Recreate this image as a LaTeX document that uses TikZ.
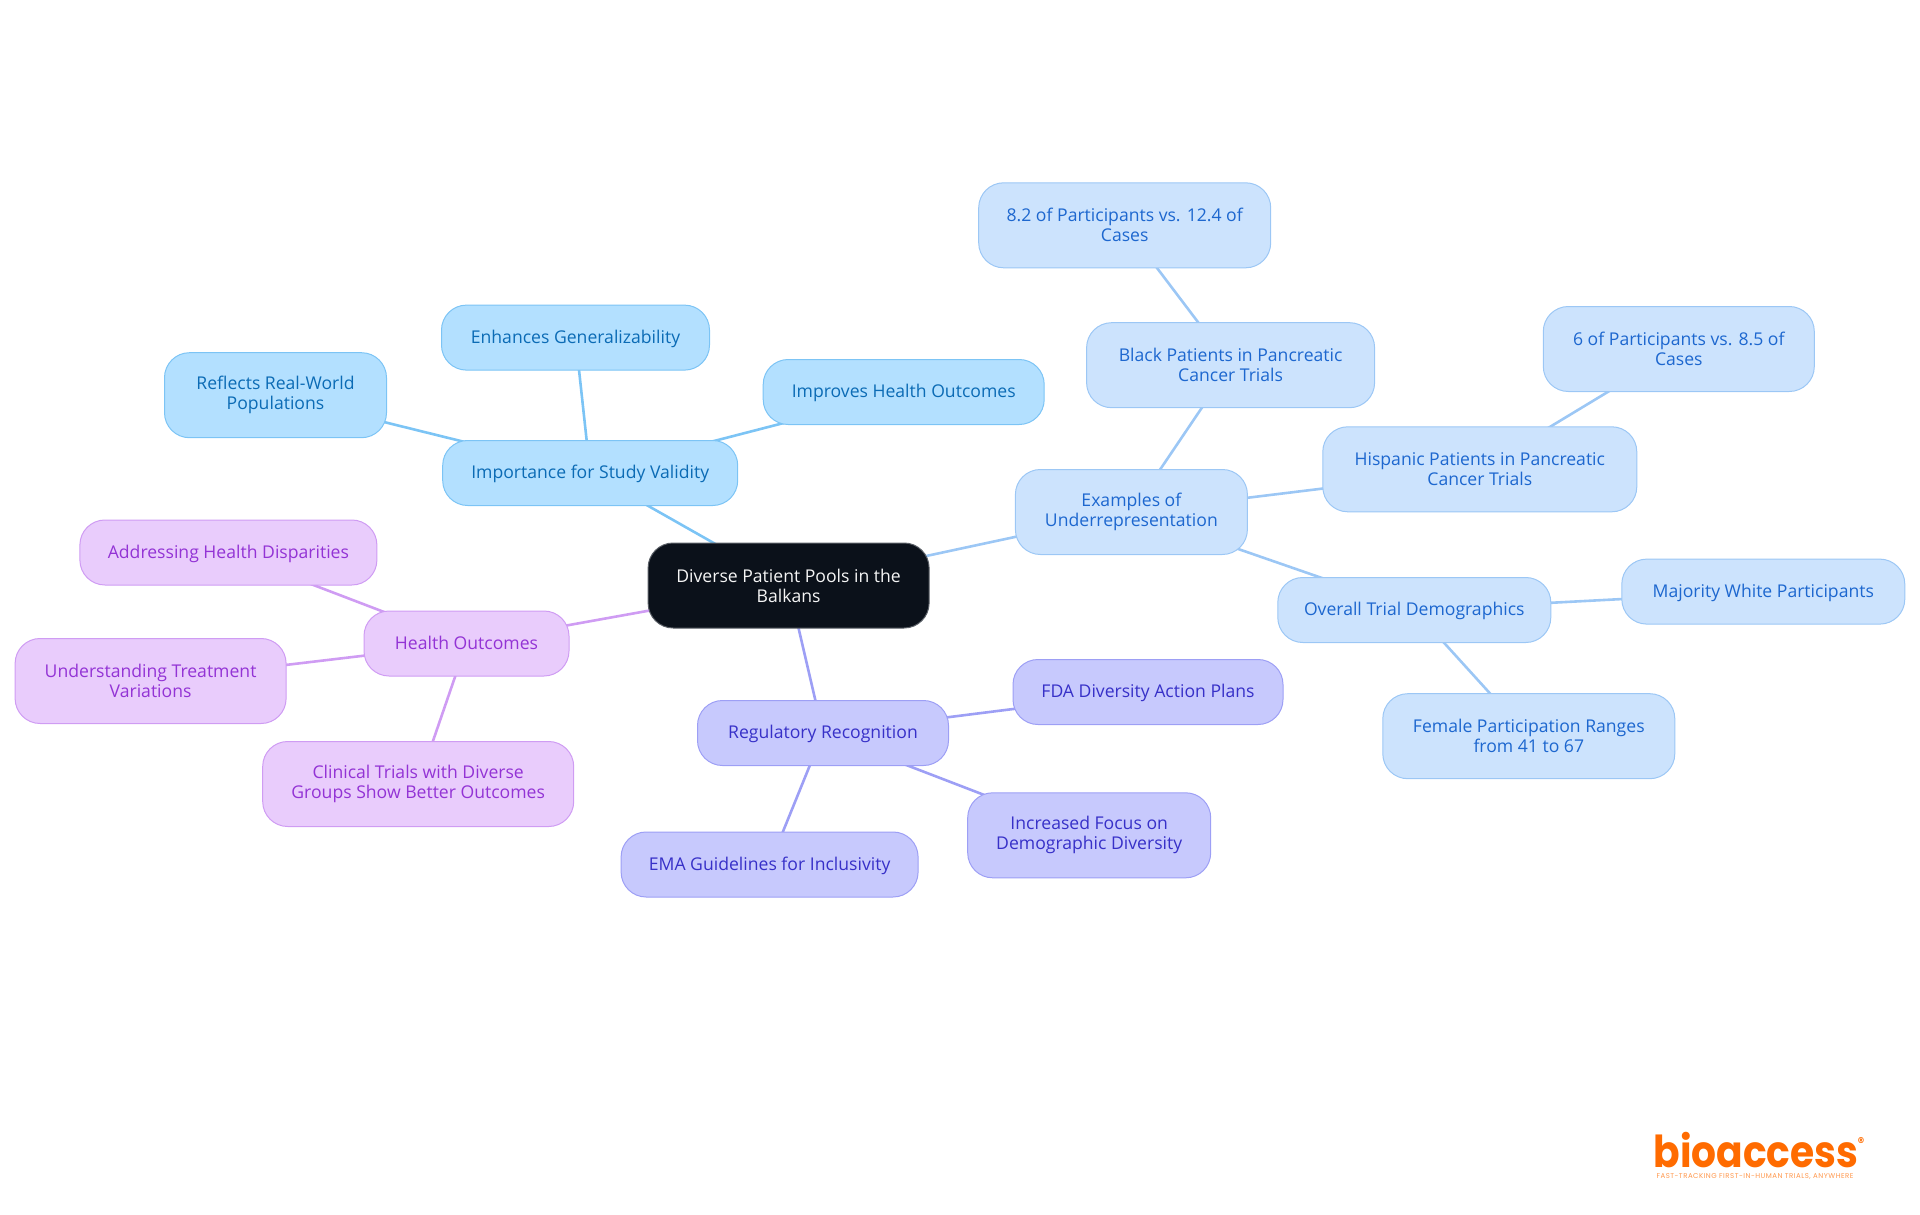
\documentclass[tikz,border=0pt]{standalone}
\usepackage{fontspec}
\setmainfont{Open Sans}
\newfontfamily\logofont[FakeStretch=0.89]{Poppins}
\newfontfamily\tagfont[LetterSpace=7]{Poppins}
\usetikzlibrary{backgrounds}
\definecolor{rootfill}{HTML}{0B111A}
\definecolor{rootline}{HTML}{5A5F66}
\definecolor{skyfill}{HTML}{B3E0FF}
\definecolor{skyline}{HTML}{7CC4F5}
\definecolor{skytext}{HTML}{0B6BB5}
\definecolor{bluefill}{HTML}{CCE3FD}
\definecolor{blueline}{HTML}{9CC7F5}
\definecolor{bluetext}{HTML}{1D67CF}
\definecolor{indigofill}{HTML}{C7C9FD}
\definecolor{indigoline}{HTML}{9D9FF5}
\definecolor{indigotext}{HTML}{3730C8}
\definecolor{purplefill}{HTML}{E9CCFC}
\definecolor{purpleline}{HTML}{CF9CF3}
\definecolor{purpletext}{HTML}{9333D5}
\definecolor{logoorange}{HTML}{FF6B00}
\begin{document}
\begin{tikzpicture}[x=1pt, y=-1pt,
    main/.style = {draw, rounded corners=25pt, line width=1pt, inner sep=0pt, align=center, font=\fontsize{17.6}{20}\selectfont},
    oneline/.style = {minimum height=65pt, text height=11.5pt, text depth=0pt},
    twoline/.style = {minimum height=85pt},
    rootbox/.style = {main, fill=rootfill, draw=rootline, text=white!96!black},
    skybox/.style = {main, fill=skyfill, draw=skyline, text=skytext},
    bluebox/.style = {main, fill=bluefill, draw=blueline, text=bluetext},
    indigobox/.style = {main, fill=indigofill, draw=indigoline, text=indigotext},
    purplebox/.style = {main, fill=purplefill, draw=purpleline, text=purpletext},
    link/.style = {line width=2.6pt}]
    \useasboundingbox (0,0) rectangle (1920,1215);

    \node[rootbox, twoline, minimum width=281pt] (root) at (788.6,585.5) {Diverse Patient Pools in the\\Balkans};

    \node[skybox, oneline, minimum width=295pt] (study) at (590.2,473) {Importance for Study Validity};
    \node[skybox, oneline, minimum width=268pt] (general) at (575.5,337.6) {Enhances Generalizability};
    \node[skybox, twoline, minimum width=222pt] (realworld) at (275.5,395.2) {Reflects Real-World\\Populations};
    \node[skybox, oneline, minimum width=281pt] (improves) at (903.7,392) {Improves Health Outcomes};

    \node[bluebox, twoline, minimum width=232pt] (under) at (1131.4,512) {Examples of\\Underrepresentation};
    \node[bluebox, twoline, minimum width=288pt] (black) at (1230.6,365.2) {Black Patients in Pancreatic\\Cancer Trials};
    \node[bluebox, twoline, minimum width=292pt] (blackpct) at (1124.7,225.3) {8.2 of Participants vs. 12.4 of\\Cases};
    \node[bluebox, twoline, minimum width=314pt] (hispanic) at (1479.8,469.3) {Hispanic Patients in Pancreatic\\Cancer Trials};
    \node[bluebox, twoline, minimum width=271pt] (hispanicpct) at (1678.8,349) {6 of Participants vs. 8.5 of\\Cases};
    \node[bluebox, oneline, minimum width=273pt] (overall) at (1414.3,610) {Overall Trial Demographics};
    \node[bluebox, oneline, minimum width=283pt] (majority) at (1763.3,591.6) {Majority White Participants};
    \node[bluebox, twoline, minimum width=292pt] (female) at (1528.8,736.2) {Female Participation Ranges\\from 41 to 67};

    \node[indigobox, oneline, minimum width=251pt] (regulatory) at (823,733) {Regulatory Recognition};
    \node[indigobox, oneline, minimum width=270pt] (fda) at (1148,692) {FDA Diversity Action Plans};
    \node[indigobox, twoline, minimum width=243pt] (focus) at (1089.2,835.3) {Increased Focus on\\Demographic Diversity};
    \node[indigobox, oneline, minimum width=297pt] (ema) at (769.6,864.5) {EMA Guidelines for Inclusivity};

    \node[purplebox, oneline, minimum width=205pt] (health) at (466.5,643.5) {Health Outcomes};
    \node[purplebox, oneline, minimum width=297pt] (disparities) at (228.4,552.5) {Addressing Health Disparities};
    \node[purplebox, twoline, minimum width=271pt] (treatment) at (150.6,681) {Understanding Treatment\\Variations};
    \node[purplebox, twoline, minimum width=311pt] (clinical) at (418.2,784) {Clinical Trials with Diverse\\Groups Show Better Outcomes};

    % logo
    \node[inner sep=0pt, text=logoorange, font=\logofont\bfseries\fontsize{44}{44}\selectfont] (logo) at (1756,1150) {bioaccess};
    \node[inner sep=0pt, text=logoorange!70, font=\tagfont\fontsize{7}{8}\selectfont] (tagline) at (1755,1177) {FAST-TRACKING FIRST-IN-HUMAN TRIALS, ANYWHERE};
    \node[inner sep=0pt, text=logoorange, font=\logofont\bfseries\fontsize{14}{14}\selectfont] (reg) at (1861,1142) {®};

    \begin{scope}[on background layer]
        \draw[link, skyline] (root.center) -- (study.center);
        \draw[link, skyline] (study.center) -- (general.center);
        \draw[link, skyline] (study.center) -- (realworld.center);
        \draw[link, skyline] (study.center) -- (improves.center);
        \draw[link, blueline] (root.center) -- (under.center);
        \draw[link, blueline] (under.center) -- (black.center);
        \draw[link, blueline] (black.center) -- (blackpct.center);
        \draw[link, blueline] (under.center) -- (hispanic.center);
        \draw[link, blueline] (hispanic.center) -- (hispanicpct.center);
        \draw[link, blueline] (under.center) -- (overall.center);
        \draw[link, blueline] (overall.center) -- (majority.center);
        \draw[link, blueline] (overall.center) -- (female.center);
        \draw[link, indigoline] (root.center) -- (regulatory.center);
        \draw[link, indigoline] (regulatory.center) -- (fda.center);
        \draw[link, indigoline] (regulatory.center) -- (focus.center);
        \draw[link, indigoline] (regulatory.center) -- (ema.center);
        \draw[link, purpleline] (root.center) -- (health.center);
        \draw[link, purpleline] (health.center) -- (disparities.center);
        \draw[link, purpleline] (health.center) -- (treatment.center);
        \draw[link, purpleline] (health.center) -- (clinical.center);
    \end{scope}
\end{tikzpicture}
\end{document}
